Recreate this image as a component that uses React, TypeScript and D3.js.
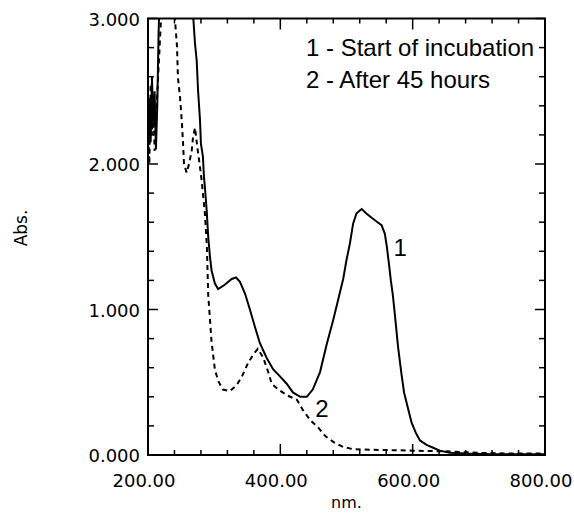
import React, { useEffect, useRef } from "react";
import * as d3 from "d3";

// wavelength (nm) / absorbance
const startNm = [200, 202, 204, 206, 208, 210, 212, 214, 216, 220, 264, 268.5, 271, 273.6, 275.6, 278.6, 280, 283, 284.6, 286, 288.7, 291, 293.7, 296, 301, 306, 316, 326.5, 333, 339, 346.6, 354, 361.7, 369, 379, 389, 399.5, 409.6, 419, 430, 440, 449, 460, 470, 480, 487, 495, 500, 505, 510, 515, 520, 523, 530, 538, 547, 553, 558, 561, 564, 567, 570, 573, 578, 583, 587, 593, 598.5, 605, 611, 621, 631, 641, 656, 680, 720, 760, 800];
const startAbs = [2.05, 2.45, 2.15, 2.6, 2.25, 2.5, 2.1, 2.4, 2.9, 3.5, 3.5, 3.0, 2.83, 2.71, 2.51, 2.3, 2.14, 2.05, 1.91, 1.84, 1.68, 1.5, 1.36, 1.27, 1.18, 1.14, 1.17, 1.21, 1.22, 1.19, 1.11, 1.0, 0.88, 0.77, 0.67, 0.59, 0.54, 0.49, 0.43, 0.4, 0.4, 0.45, 0.57, 0.76, 0.93, 1.06, 1.21, 1.34, 1.45, 1.59, 1.66, 1.68, 1.69, 1.66, 1.63, 1.6, 1.58, 1.52, 1.43, 1.32, 1.2, 1.1, 0.97, 0.74, 0.56, 0.43, 0.32, 0.22, 0.15, 0.1, 0.07, 0.05, 0.03, 0.016, 0.01, 0.005, 0.005, 0.005];

const afterNm = [200, 202, 204, 206, 208, 210, 212, 215, 219.6, 222, 238, 240.8, 243.8, 245.3, 248.4, 251, 253, 254.4, 258.5, 262, 266, 268, 271, 275, 278, 281, 286, 289, 291, 294, 296, 301, 306, 313, 324, 334, 342, 351, 359, 366, 374, 381, 387, 397, 410, 425, 434, 445, 457, 468, 480, 495, 510, 550, 600, 650, 700, 750, 800];
const afterAbs = [2.3, 2.0, 2.55, 2.2, 2.45, 2.09, 2.3, 2.57, 2.99, 3.5, 3.5, 2.99, 2.81, 2.59, 2.46, 2.3, 2.14, 2.0, 1.94, 2.0, 2.09, 2.18, 2.25, 2.1, 2.0, 1.89, 1.66, 1.43, 1.1, 0.91, 0.78, 0.59, 0.51, 0.45, 0.44, 0.48, 0.54, 0.63, 0.69, 0.73, 0.67, 0.58, 0.49, 0.45, 0.41, 0.38, 0.31, 0.24, 0.19, 0.13, 0.09, 0.055, 0.04, 0.035, 0.03, 0.025, 0.015, 0.01, 0.01];

const xMajor = [200, 400, 600, 800];
const yMajor = [0, 1, 2, 3];
const legendLines = ["1 - Start of incubation", "2 - After 45 hours"];
// curve number labels placed in data coordinates
const curveLabels = [
  { text: "1", nm: 581, abs: 1.37 },
  { text: "2", nm: 463, abs: 0.26 },
];

const W = 574;
const H = 514;

export default function App() {
  const svgRef = useRef<SVGSVGElement | null>(null);

  useEffect(() => {
    const svg = d3.select(svgRef.current);
    svg.selectAll("*").remove();

    const left = 148, right = 545, top = 18.5, bottom = 455;
    const x = d3.scaleLinear().domain([200, 800]).range([left, right]);
    const y = d3.scaleLinear().domain([0, 3]).range([bottom, top]);

    const tickFont = "'DejaVu Sans', Verdana, sans-serif";
    const textFont = "'Liberation Sans', Arial, sans-serif";

    svg.append("defs").append("clipPath").attr("id", "plot-clip")
      .append("rect")
      .attr("x", left).attr("y", top)
      .attr("width", right - left).attr("height", bottom - top);

    // --- curves
    const line = d3.line<[number, number]>()
      .x(d => x(d[0]))
      .y(d => y(d[1]));

    const series1: [number, number][] = startNm.map((n, i) => [n, startAbs[i]]);
    const series2: [number, number][] = afterNm.map((n, i) => [n, afterAbs[i]]);

    const curves = svg.append("g").attr("clip-path", "url(#plot-clip)");
    curves.append("path")
      .attr("d", line(series2))
      .attr("fill", "none")
      .attr("stroke", "#000")
      .attr("stroke-width", 2)
      .attr("stroke-dasharray", "5,4");
    curves.append("path")
      .attr("d", line(series1))
      .attr("fill", "none")
      .attr("stroke", "#000")
      .attr("stroke-width", 2);

    // --- ticks (inward on all four sides)
    const xMinor = d3.range(200, 801, 40).filter(v => v % 200 !== 0);
    const yMinor = d3.range(0, 3.001, 0.2).map(v => +v.toFixed(1)).filter(v => v % 1 !== 0);

    const ticks = svg.append("g").attr("stroke", "#000").attr("stroke-width", 1.5);
    const xTicks = [...xMajor.map(v => ({ v, len: 11 })), ...xMinor.map(v => ({ v, len: 5 }))];
    const yTicks = [...yMajor.map(v => ({ v, len: 10 })), ...yMinor.map(v => ({ v, len: 6 }))];

    xTicks.forEach(t => {
      ticks.append("line").attr("x1", x(t.v)).attr("x2", x(t.v)).attr("y1", bottom).attr("y2", bottom - t.len);
      ticks.append("line").attr("x1", x(t.v)).attr("x2", x(t.v)).attr("y1", top).attr("y2", top + t.len);
    });
    yTicks.forEach(t => {
      ticks.append("line").attr("x1", left).attr("x2", left + t.len).attr("y1", y(t.v)).attr("y2", y(t.v));
      ticks.append("line").attr("x1", right).attr("x2", right - t.len).attr("y1", y(t.v)).attr("y2", y(t.v));
    });

    // frame
    svg.append("rect")
      .attr("x", left).attr("y", top)
      .attr("width", right - left).attr("height", bottom - top)
      .attr("fill", "none")
      .attr("stroke", "#000")
      .attr("stroke-width", 2);

    // --- tick labels
    svg.append("g")
      .selectAll("text")
      .data(xMajor)
      .join("text")
      .attr("x", d => x(d) - 4)
      .attr("y", 487)
      .attr("text-anchor", "middle")
      .attr("font-family", tickFont)
      .attr("font-size", 18)
      .text(d => d3.format(".2f")(d));

    svg.append("g")
      .selectAll("text")
      .data(yMajor)
      .join("text")
      .attr("x", 140)
      .attr("y", d => y(d) + 7)
      .attr("text-anchor", "end")
      .attr("font-family", tickFont)
      .attr("font-size", 18)
      .text(d => d3.format(".3f")(d));

    // axis titles
    svg.append("text")
      .attr("x", (left + right) / 2)
      .attr("y", 508)
      .attr("text-anchor", "middle")
      .attr("font-family", tickFont)
      .attr("font-size", 16)
      .text("nm.");

    svg.append("text")
      .attr("transform", "translate(27,228) rotate(-90)")
      .attr("text-anchor", "middle")
      .attr("font-family", tickFont)
      .attr("font-size", 17)
      .text("Abs.");

    // legend
    svg.append("g")
      .selectAll("text")
      .data(legendLines)
      .join("text")
      .attr("x", 306)
      .attr("y", (d, i) => 56 + i * 31.5)
      .attr("font-family", textFont)
      .attr("font-size", 24)
      .text(d => d);

    // curve labels
    svg.append("g")
      .selectAll("text")
      .data(curveLabels)
      .join("text")
      .attr("x", d => x(d.nm))
      .attr("y", d => y(d.abs))
      .attr("text-anchor", "middle")
      .attr("font-family", textFont)
      .attr("font-size", 24)
      .text(d => d.text);
  }, []);

  return (
    <svg
      ref={svgRef}
      width={W}
      height={H}
      style={{ position: "absolute", left: 0, top: 0, background: "#fff", display: "block" }}
    />
  );
}
